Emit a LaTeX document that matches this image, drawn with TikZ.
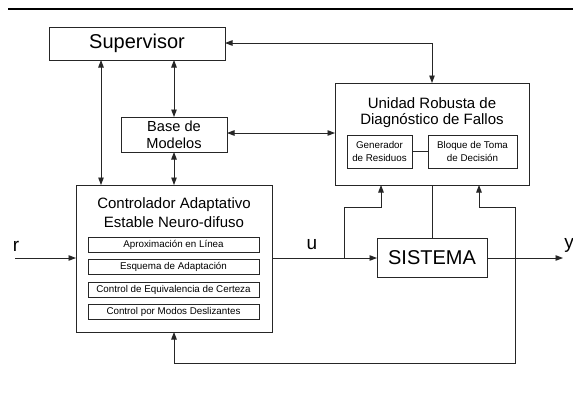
\documentclass[tikz,border=0pt]{standalone}
\usepackage{fontspec}
\setmainfont{Liberation Sans}
\usetikzlibrary{arrows.meta}
\begin{document}
\begin{tikzpicture}[x=1pt,y=-1pt,
  every node/.style={inner sep=0pt,outer sep=0pt,font=\fontsize{15}{17}\selectfont},
  blk/.style={draw=black!85,line width=0.9pt,fill=white},
  sub/.style={draw=black!85,line width=0.8pt,font=\fontsize{9.8}{12}\selectfont,align=center},
  wire/.style={draw=black!85,line width=0.9pt},
  tip/.style={-{Triangle[length=7.5pt,width=5.5pt]}},
  tips/.style={{Triangle[length=7.5pt,width=5.5pt]}-{Triangle[length=7.5pt,width=5.5pt]}},
  sig/.style={font=\fontsize{19}{21}\selectfont}]
\useasboundingbox (0,0) rectangle (573,394);
\draw[line width=2.5pt] (8,9) -- (573,9);

% blocks
\node[blk,minimum width=176pt,minimum height=33pt,font=\fontsize{20}{22}\selectfont] (sup) at (137,43.5) {Supervisor};
\node[blk,minimum width=106pt,minimum height=35pt,align=center,font=\fontsize{14.6}{17}\selectfont] (base) at (174,134.5) {Base de\\Modelos};
\node[blk,minimum width=196pt,minimum height=147pt] (ctl) at (174,258.5) {};
\node[align=center,font=\fontsize{15}{19}\selectfont] (ctlt) at (174,212.5) {Controlador Adaptativo\\Estable Neuro-difuso};
\node[sub,minimum width=171pt,minimum height=15pt] (s1) at (173.5,244.5) {Aproximación en Línea};
\node[sub,minimum width=171pt,minimum height=15pt] (s2) at (173.5,266.5) {Esquema de Adaptación};
\node[sub,minimum width=171pt,minimum height=15pt] (s3) at (173.5,289.5) {Control de Equivalencia de Certeza};
\node[sub,minimum width=171pt,minimum height=15pt] (s4) at (173.5,312) {Control por Modos Deslizantes};

\node[blk,minimum width=194pt,minimum height=102pt] (diag) at (432,134) {};
\node[align=center,font=\fontsize{15}{16}\selectfont] (diagt) at (432,112.5) {Unidad Robusta de\\Diagnóstico de Fallos};
\node[sub,minimum width=65pt,minimum height=33pt,font=\fontsize{9.8}{13}\selectfont] (gen) at (379.5,151.5) {Generador\\de Residuos};
\node[sub,minimum width=89pt,minimum height=33pt,font=\fontsize{9.8}{13}\selectfont] (dec) at (472.5,151.5) {Bloque de Toma\\de Decisión};
\draw[wire] (gen) -- (dec);

\node[blk,minimum width=110pt,minimum height=39pt,font=\fontsize{20}{22}\selectfont] (sis) at (432,257.5) {SISTEMA};

% signal points
\coordinate (rin) at (15,258);
\coordinate (yout) at (563,258);
\coordinate (br) at (344,258);
\coordinate (fb) at (515,258);
\node[sig] (rl) at (16,246) {r};
\node[sig] (ul) at (312,245) {u};
\node[sig] (yl) at (569,245) {y};

% connectors
\draw[wire,tips] (sup.east |- 0,43) -| (diag.north);
\draw[wire,tips] (sup.south -| 101,0) -- (ctl.north -| 101,0);
\draw[wire,tips] (sup.south -| base.north) -- (base.north);
\draw[wire,tips] (base.south) -- (ctl.north -| base.south);
\draw[wire,tips] (base.east |- 0,133) -- (diag.west |- 0,133);
\draw[wire,tip] (rin) -- (ctl.west |- rin);
\draw[wire,tip] (ctl.east |- br) -- (sis.west |- br);
\draw[wire,tip] (br) |- (381,207) -- (diag.south -| 381,0);
\draw[wire] (sis.north) -- (diag.south);
\draw[wire,tip] (sis.east |- yout) -- (yout);
\draw[wire,tip] (fb) |- (479,207) -- (diag.south -| 479,0);
\draw[wire,tip] (fb) |- (174,363) -- (ctl.south);
\end{tikzpicture}
\end{document}
